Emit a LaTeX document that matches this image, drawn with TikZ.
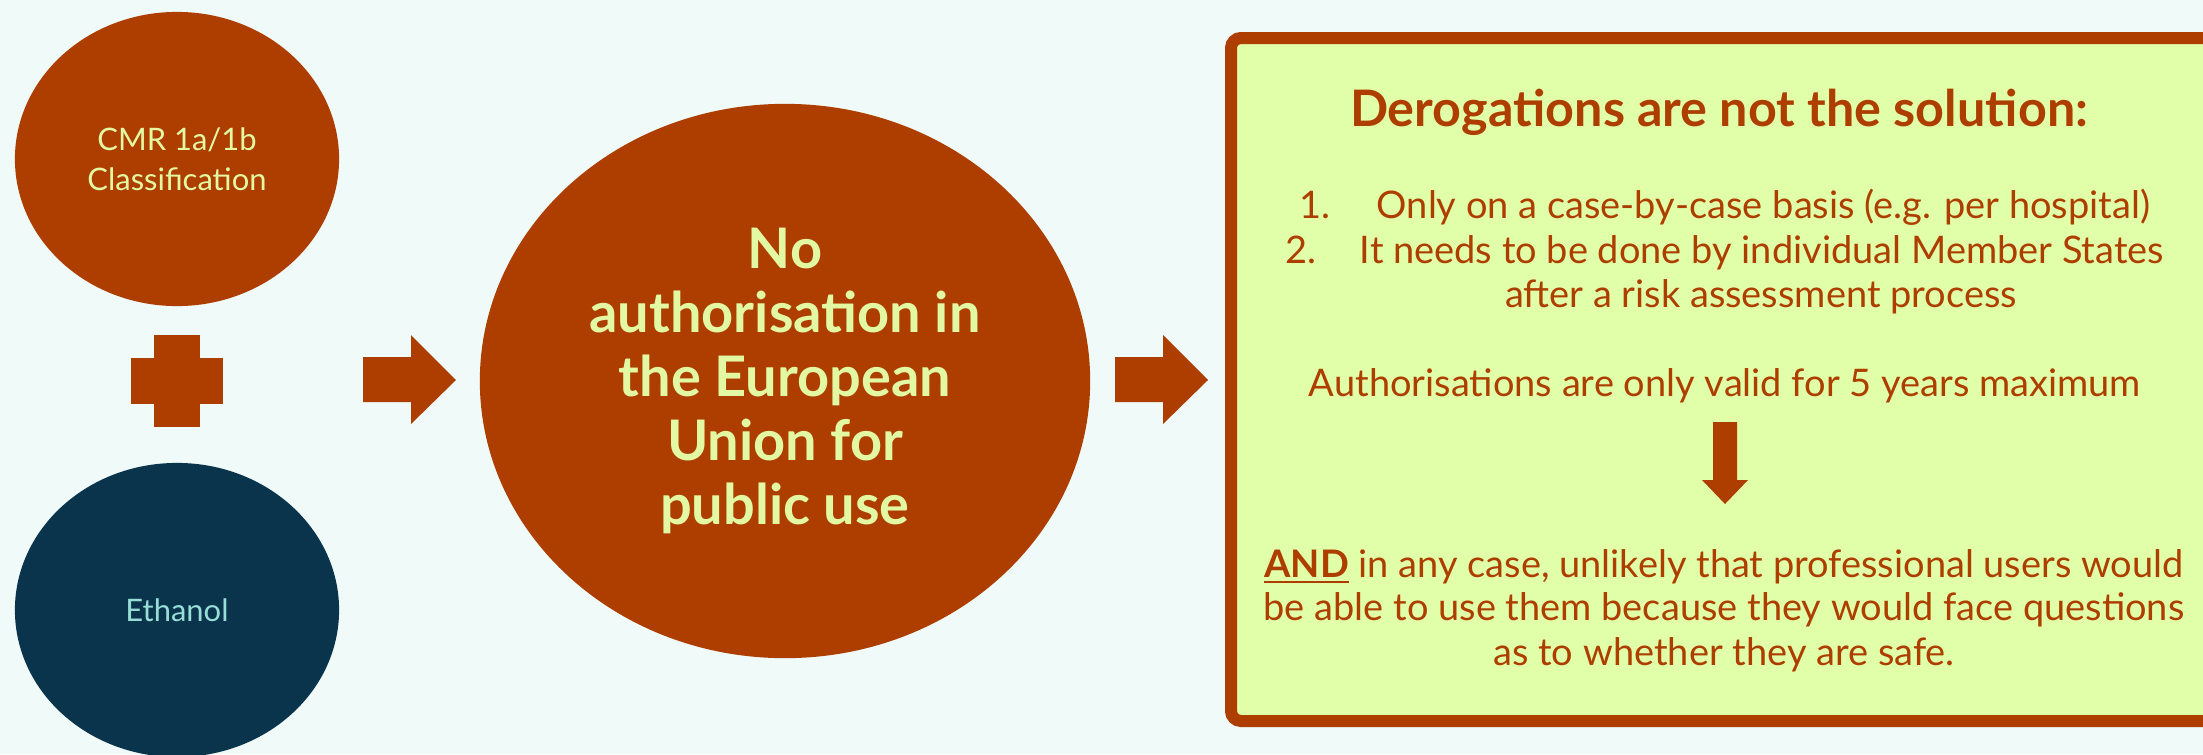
\documentclass[tikz,border=0pt]{standalone}
\usepackage{fontspec}
\setmainfont{Lato}
\usetikzlibrary{shapes.geometric}

\definecolor{rust}{RGB}{173,62,0}
\definecolor{navy}{RGB}{10,51,76}
\definecolor{pale}{RGB}{226,248,163}
\definecolor{aqua}{RGB}{150,222,214}
\definecolor{boxfill}{RGB}{225,255,168}
\definecolor{backdrop}{RGB}{240,250,248}

\begin{document}
\begin{tikzpicture}[x=0.01cm,y=-0.01cm,
  blob/.style={ellipse, inner sep=0pt, minimum width=3.24cm, minimum height=2.94cm,
    align=center, font=\fontsize{8.8}{11.4}\selectfont},
  boxline/.style={text=rust, anchor=base, inner sep=0pt, font=\fontsize{10.8}{12.5}\selectfont}]
\useasboundingbox (0,0) rectangle (2203,754);
\clip (0,0) rectangle (2203,754);
\fill[backdrop] (0,0) rectangle (2203,754);

% left side: the two ingredients
\node[blob, fill=rust, text=pale] (cmr) at (177,159) {CMR 1a/1b\\Classification};
\node[blob, fill=navy, text=aqua] (eth) at (177,610) {Ethanol};
\fill[rust] (154,335) rectangle (200,427);
\fill[rust] (131,358) rectangle (223,404);

% result
\node[ellipse, inner sep=0pt, minimum width=6.10cm, minimum height=5.54cm, fill=rust,
  text=pale, align=center, font=\bfseries\fontsize{15.9}{18.2}\selectfont] (noauth) at (785,381)
  {No\\authorisation in\\the European\\Union for\\public use};

% fat arrows
\foreach \x in {363,1115} {
  \fill[rust] (\x,357) -- ({\x+48},357) -- ({\x+48},335) -- ({\x+93},380)
    -- ({\x+48},424) -- ({\x+48},402) -- (\x,402) -- cycle;
}

% derogations box
\draw[rust, line width=0.12cm, rounded corners=0.1cm, fill=boxfill] (1231,38) rectangle (2290,721);
\node[boxline, font=\bfseries\fontsize{14.3}{17}\selectfont] (title) at (1719,126) {Derogations are not the solution:};
\node[boxline] (item1) at (1725,218) {1.\hspace{0.46cm}Only on a case-by-case basis (e.g. per hospital)};
\node[boxline] (item2) at (1725,263) {2.\hspace{0.43cm}It needs to be done by individual Member States};
\node[boxline] (item2b) at (1761,307) {after a risk assessment process};
\node[boxline] (valid) at (1725,396) {Authorisations are only valid for 5 years maximum};
\fill[rust] (1713,422) -- (1737,422) -- (1737,480) -- (1748,480) -- (1725,504)
  -- (1702,480) -- (1713,480) -- cycle;
\node[boxline] (and1) at (1724,577) {\textbf{\underline{AND}} in any case, unlikely that professional users would};
\node[boxline] (and2) at (1724,620) {be able to use them because they would face questions};
\node[boxline] (and3) at (1724,665) {as to whether they are safe.};
\end{tikzpicture}
\end{document}
